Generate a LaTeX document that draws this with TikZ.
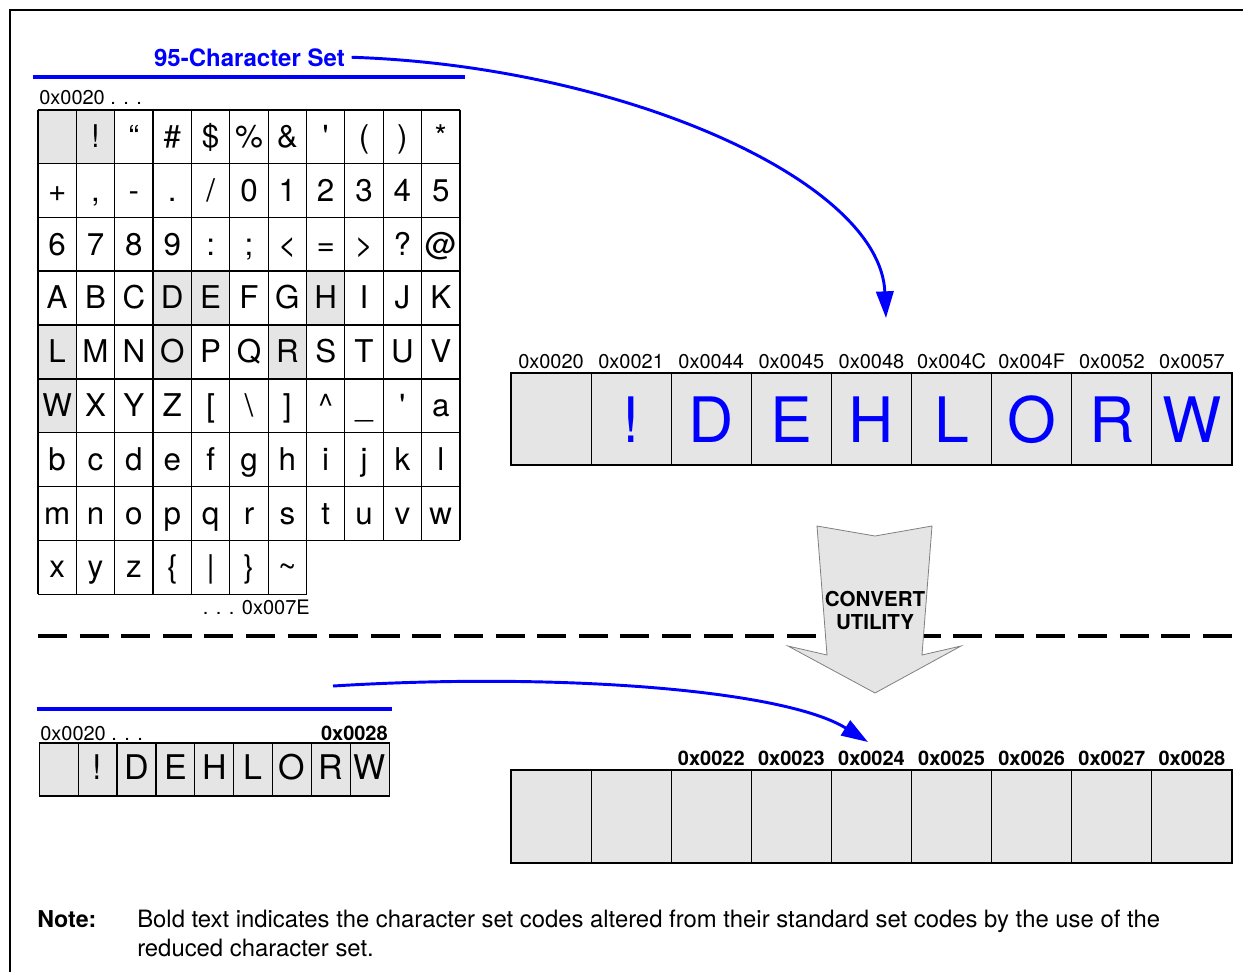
\documentclass[tikz,border=0pt]{standalone}
\usepackage{fontspec}
\setmainfont{TeX Gyre Heros}
\newfontfamily\straightquote{TeX Gyre Heros}[Ligatures=TeXOff]
\usetikzlibrary{arrows.meta}
\definecolor{cellgray}{HTML}{E5E5E5}
\definecolor{setblue}{HTML}{0000FF}
% one character of the 95-character table: column, row, glyph
\newcommand\gridchar[3]{\node[gchar] (ch-#2-#1) at ({38+(#1-0.5)*38.36},{110+(#2-1)*53.8+37.5}) {#3};}
\begin{document}
\begin{tikzpicture}[x=0.75pt,y=-0.75pt,
  gchar/.style={anchor=base, inner sep=0pt, font=\fontsize{23.5}{28}\selectfont},
  gridline/.style={line width=0.9pt},
  codelabel/.style={anchor=base, inner sep=0pt, font=\fontsize{15}{18}\selectfont},
  boldcode/.style={anchor=base, inner sep=0pt, font=\fontsize{15}{18}\selectfont\bfseries},
  codecell/.style={draw=black, fill=cellgray, line width=0.9pt, minimum width=60.08pt, minimum height=69pt, inner sep=0pt},
  smallcell/.style={draw=black, fill=cellgray, line width=0.9pt, minimum width=29.2pt, minimum height=39.75pt, inner sep=0pt},
  bigletter/.style={anchor=base, inner sep=0pt, text=setblue, font=\fontsize{47}{50}\selectfont},
  smallletter/.style={anchor=base, inner sep=0pt, font=\fontsize{25.5}{30}\selectfont},
  bluerule/.style={setblue, line width=3pt},
  bluelink/.style={setblue, line width=2.2pt, -{Triangle[length=20pt,width=13pt]}},
  notetext/.style={anchor=base west, inner sep=0pt, font=\fontsize{17.9}{21.75}\selectfont, align=left},
]
\useasboundingbox (0,0) rectangle (1243,972);

% page frame
\draw[line width=1.5pt] (10,972) -- (10,10) -- (1243,10);

% ---------- 95-character table ----------
\node[anchor=base east, inner sep=0pt, text=setblue, font=\fontsize{18}{22}\selectfont\bfseries] (title) at (345,66) {95-Character Set};
\draw[bluerule] (33,77) -- (465,77);
\node[codelabel, anchor=base west] (startcode) at (39,104) {0x0020 . . .};

\foreach \c/\r in {1/1,2/1,4/4,5/4,8/4,1/5,4/5,7/5,1/6}
  \fill[cellgray] ({38+(\c-1)*38.36},{110+(\r-1)*53.8}) rectangle ++(38.36,53.8);
\foreach \i in {0,...,11}
  \draw[gridline] ({38+\i*38.36},110) -- ({38+\i*38.36},540.4);
\foreach \i in {0,...,7}
  \draw[gridline] ({38+\i*38.36},540.4) -- ({38+\i*38.36},594.2);
\foreach \j in {0,1,2,5,6,7,8}
  \draw[gridline] (38,{110+\j*53.8}) -- (460,{110+\j*53.8});
\foreach \j in {3,4}
  \draw[line width=1.5pt] (38,{110+\j*53.8}) -- (460,{110+\j*53.8});
\draw[gridline] (38,594.2) -- (306.9,594.2);

\gridchar{2}{1}{!}\gridchar{3}{1}{“}\gridchar{4}{1}{\#}\gridchar{5}{1}{\$}\gridchar{6}{1}{\%}
\gridchar{7}{1}{\&}\gridchar{8}{1}{{\straightquote'}}\gridchar{9}{1}{(}\gridchar{10}{1}{)}\gridchar{11}{1}{*}
\gridchar{1}{2}{+}\gridchar{2}{2}{,}\gridchar{3}{2}{-}\gridchar{4}{2}{.}\gridchar{5}{2}{/}\gridchar{6}{2}{0}
\gridchar{7}{2}{1}\gridchar{8}{2}{2}\gridchar{9}{2}{3}\gridchar{10}{2}{4}\gridchar{11}{2}{5}
\gridchar{1}{3}{6}\gridchar{2}{3}{7}\gridchar{3}{3}{8}\gridchar{4}{3}{9}\gridchar{5}{3}{:}\gridchar{6}{3}{;}
\gridchar{7}{3}{<}\gridchar{8}{3}{=}\gridchar{9}{3}{>}\gridchar{10}{3}{?}\gridchar{11}{3}{@}
\gridchar{1}{4}{A}\gridchar{2}{4}{B}\gridchar{3}{4}{C}\gridchar{4}{4}{D}\gridchar{5}{4}{E}\gridchar{6}{4}{F}
\gridchar{7}{4}{G}\gridchar{8}{4}{H}\gridchar{9}{4}{I}\gridchar{10}{4}{J}\gridchar{11}{4}{K}
\gridchar{1}{5}{L}\gridchar{2}{5}{M}\gridchar{3}{5}{N}\gridchar{4}{5}{O}\gridchar{5}{5}{P}\gridchar{6}{5}{Q}
\gridchar{7}{5}{R}\gridchar{8}{5}{S}\gridchar{9}{5}{T}\gridchar{10}{5}{U}\gridchar{11}{5}{V}
\gridchar{1}{6}{W}\gridchar{2}{6}{X}\gridchar{3}{6}{Y}\gridchar{4}{6}{Z}\gridchar{5}{6}{[}\gridchar{6}{6}{\textbackslash}
\gridchar{7}{6}{]}\gridchar{8}{6}{\textasciicircum}\gridchar{9}{6}{\_}\gridchar{10}{6}{{\straightquote'}}\gridchar{11}{6}{a}
\gridchar{1}{7}{b}\gridchar{2}{7}{c}\gridchar{3}{7}{d}\gridchar{4}{7}{e}\gridchar{5}{7}{f}\gridchar{6}{7}{g}
\gridchar{7}{7}{h}\gridchar{8}{7}{i}\gridchar{9}{7}{j}\gridchar{10}{7}{k}\gridchar{11}{7}{l}
\gridchar{1}{8}{m}\gridchar{2}{8}{n}\gridchar{3}{8}{o}\gridchar{4}{8}{p}\gridchar{5}{8}{q}\gridchar{6}{8}{r}
\gridchar{7}{8}{s}\gridchar{8}{8}{t}\gridchar{9}{8}{u}\gridchar{10}{8}{v}\gridchar{11}{8}{w}
\gridchar{1}{9}{x}\gridchar{2}{9}{y}\gridchar{3}{9}{z}\gridchar{4}{9}{\{}\gridchar{5}{9}{\textbar}
\gridchar{6}{9}{\}}\gridchar{7}{9}{\textasciitilde}

\node[codelabel, anchor=base east] (endcode) at (310,614) {. . . 0x007E};

% ---------- standard codes of the used characters ----------
\foreach \i/\lab in {0/0x0020,1/0x0021,2/0x0044,3/0x0045,4/0x0048,5/0x004C,6/0x004F,7/0x0052,8/0x0057} {
  \node[codecell] (std-\i) at ({551.05+\i*80.11},419) {};
  \node[codelabel] (stdlab-\i) at ({551.05+\i*80.11},368) {\lab};
}
\foreach \i/\ch in {1/!,2/D,3/E,4/H,5/L,6/O,7/R,8/W}
  \node[bigletter] (big-\i) at ({551.05+\i*80.11},442) {\ch};

\coordinate (tip1) at (886,318);
\draw[bluelink] ([xshift=5pt]title.east) .. controls (620,66) and (880,180) .. (tip1);

% ---------- conversion ----------
\draw[line width=3pt, dash pattern=on 21.75pt off 9.45pt] (38,636) -- (1232,636);
\draw[fill=cellgray, draw=gray, line width=0.6pt]
  (817,526) -- (875,536) -- (932,526) -- (922,655) -- (961,646) -- (875,693) -- (788,646) -- (827,655) -- cycle;
\node[anchor=base, inner sep=0pt, font=\fontsize{15.4}{18}\selectfont\bfseries] (conv1) at (875,606) {CONVERT};
\node[anchor=base, inner sep=0pt, font=\fontsize{15.4}{18}\selectfont\bfseries] (conv2) at (875,629) {UTILITY};

% ---------- reduced character set ----------
\draw[bluerule] (37,709) -- (392,709);
\node[codelabel, anchor=base west] (redstart) at (40,740) {0x0020 . . .};
\node[boldcode, anchor=base east] (redend) at (388,740) {0x0028};
\foreach \i in {0,...,8}
  \node[smallcell] (red-\i) at ({58.75+\i*38.9},769.5) {};
\foreach \i/\ch in {1/!,2/D,3/E,4/H,5/L,6/O,7/R,8/W}
  \node[smallletter] (redch-\i) at ({58.75+\i*38.9},779) {\ch};

\foreach \i in {0,...,8}
  \node[codecell, minimum height=69.75pt] (new-\i) at ({551.05+\i*80.11},816.5) {};
\foreach \i/\lab in {2/0x0022,3/0x0023,4/0x0024,5/0x0025,6/0x0026,7/0x0027,8/0x0028}
  \node[boldcode] (newlab-\i) at ({551.05+\i*80.11},765) {\lab};

\coordinate (linkstart) at (333,686);
\coordinate (tip2) at (868,742);
\draw[bluelink] (linkstart) .. controls (560,672) and (785,690) .. (tip2);

% ---------- note ----------
\node[anchor=base west, inner sep=0pt, font=\fontsize{17.4}{21.75}\selectfont\bfseries] (notehead) at (37,927) {Note:};
\node[notetext] (notebody) at (137,956) {Bold text indicates the character set codes altered from their standard set codes by the use of the\\reduced character set.};
\end{tikzpicture}
\end{document}
